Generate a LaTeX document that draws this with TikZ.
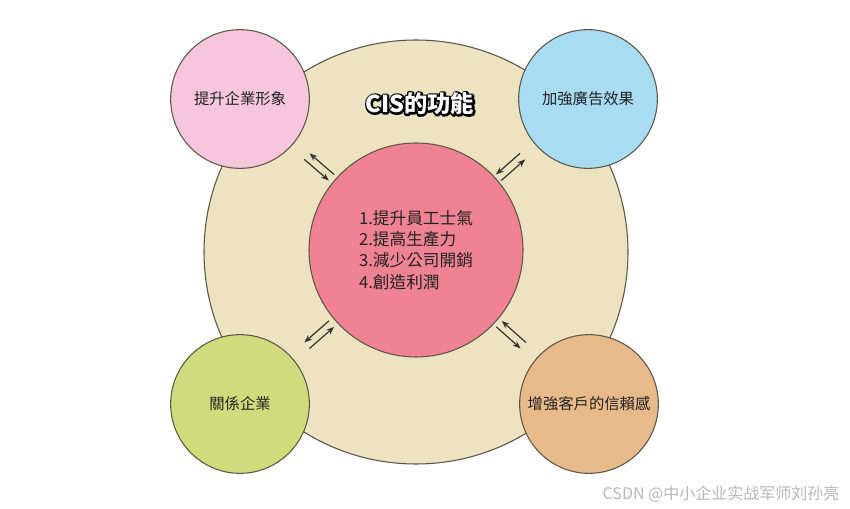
\documentclass[tikz,border=0pt]{standalone}
\usepackage{fontspec}
\setmainfont{Noto Sans CJK TC}
\newfontfamily\wmfont{Noto Sans CJK SC}
\usetikzlibrary{calc,arrows.meta}
\definecolor{bigc}{HTML}{EDE3C1}
\definecolor{pinkc}{HTML}{F6C7DC}
\definecolor{bluec}{HTML}{A7DCF2}
\definecolor{greenc}{HTML}{D0DC7C}
\definecolor{orangec}{HTML}{E8BA8A}
\definecolor{redc}{HTML}{F08393}
\definecolor{edgec}{HTML}{5C5648}
\definecolor{textc}{HTML}{222222}
\definecolor{arrc}{HTML}{333333}
\definecolor{wmgray}{HTML}{B8B8B8}
\newcommand{\myoutline}[1]{\textcolor{black}{\special{pdf:literal direct 2 Tr 2.8 w 1 j 0 G}#1\special{pdf:literal direct 0 Tr}}}
\begin{document}
\begin{tikzpicture}[x=0.75pt,y=-0.75pt,
  circ/.style={circle, draw=edgec, line width=0.8pt, inner sep=0pt, text=textc},
  outer/.style={circ, minimum size=104pt, font=\fontsize{11.5}{14}\selectfont},
  dblarrow/.style={draw=arrc, line width=0.9pt, -{Stealth[length=6pt,width=4.5pt]}}]
\useasboundingbox (0,0) rectangle (850,509);
\fill[white] (0,0) rectangle (850,509);
\node[circ, fill=bigc, minimum size=318pt] (big) at (416,252) {};
\node[outer, fill=pinkc] (pink) at (240,99) {提升企業形象};
\node[outer, fill=bluec] (blue) at (588,99) {加強廣告效果};
\node[outer, fill=greenc] (green) at (240,404) {關係企業};
\node[outer, fill=orangec] (orange) at (589,404) {增強客戶的信賴感};
\node[circ, fill=redc, minimum size=160.5pt] (c) at (416,250) {};
\node[align=left, text=textc, font=\fontsize{12.5}{16}\selectfont] (list) at (416,250)
  {1.提升員工士氣\\2.提高生產力\\3.減少公司開銷\\4.創造利潤};
\node[font=\bfseries\fontsize{17.5}{21}\selectfont] (title) at (420,104)
  {\rlap{\myoutline{CIS的功能}}\textcolor{white}{CIS的功能}};
\foreach \o in {pink,blue,green,orange}{
  \draw[dblarrow] ($(c)!0.48!(\o)!3pt!-90:(\o)$) -- ($(c)!0.62!(\o)!3pt!-90:(\o)$);
  \draw[dblarrow] ($(c)!0.62!(\o)!3pt!90:(\o)$) -- ($(c)!0.48!(\o)!3pt!90:(\o)$);
}
\node[anchor=east, text=wmgray, font=\wmfont\fontsize{12}{14}\selectfont] (wm) at (844,494)
  {CSDN @中小企业实战军师刘孙亮};
\end{tikzpicture}
\end{document}
